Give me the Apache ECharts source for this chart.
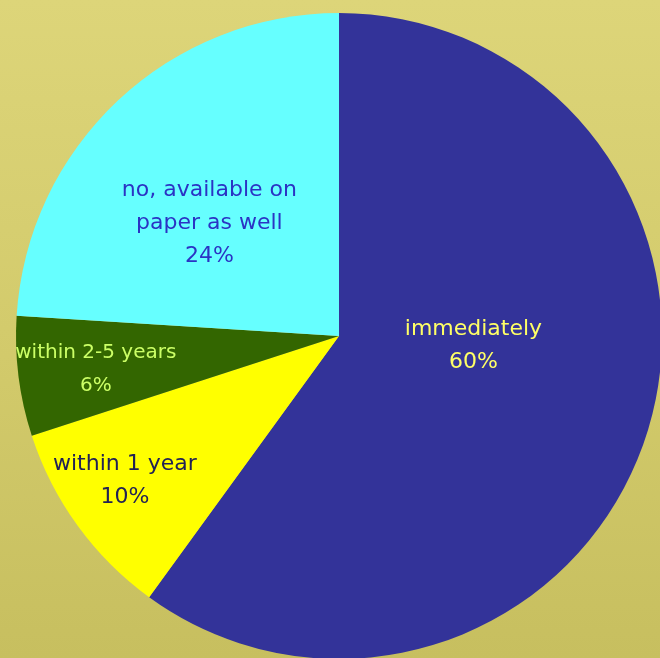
<!DOCTYPE html>
<html>
<head>
<meta charset="utf-8">
<script src="https://cdn.jsdelivr.net/npm/echarts@6/dist/echarts.min.js"></script>
<style>
  html, body { margin: 0; padding: 0; }
  body { width: 660px; height: 658px; overflow: hidden;
         background: linear-gradient(180deg, #ddd579 0%, #d3cb6c 50%, #c7bf5f 100%); }
  #chart { width: 660px; height: 658px; }
</style>
</head>
<body>
<div id="chart"></div>
<script>
// Answers, in clockwise order from 12 o'clock
const categories = ['immediately', 'within 1 year', 'within 2-5 years', 'no, available on\npaper as well'];
const shares = [60, 10, 6, 24];

// Slice fill colours and label styling per slice
const sliceColors = ['#333399', '#ffff00', '#336600', '#66ffff'];
const labelColors = ['#ffff66', '#222255', '#ccff66', '#2b33c4'];
const labelSizes = [22, 22, 20, 22];
const labelOffsets = [[-22, -41], [-81, 48], [-80, 13], [-17, 7]];

const chart = echarts.init(document.getElementById('chart'));

const data = categories.map((name, i) => ({
  name: name,
  value: shares[i],
  itemStyle: { color: sliceColors[i] },
  label: { color: labelColors[i], fontSize: labelSizes[i], offset: labelOffsets[i] }
}));

chart.setOption({
  animation: false,
  backgroundColor: 'transparent',
  series: [{
    type: 'pie',
    center: [339, 336],
    radius: [0, 323],
    startAngle: 90,
    clockwise: true,
    avoidLabelOverlap: false,
    itemStyle: { borderWidth: 0 },
    label: {
      show: true,
      position: 'inside',
      fontFamily: 'DejaVu Sans',
      fontSize: 22,
      lineHeight: 33,
      align: 'center',
      formatter: p => p.name + '\n' + p.value + '%'
    },
    labelLine: { show: false },
    emphasis: { disabled: true },
    data: data
  }]
});
</script>
</body>
</html>
